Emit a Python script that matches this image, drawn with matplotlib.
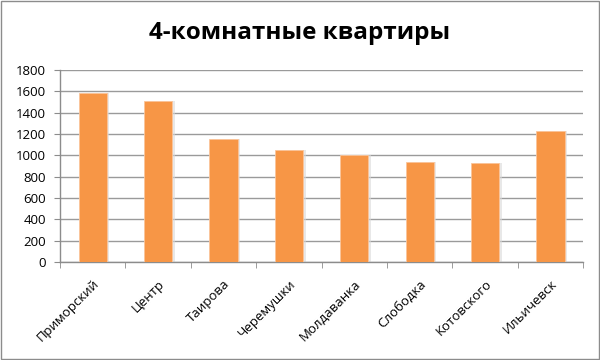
import matplotlib
matplotlib.use("Agg")
import matplotlib.pyplot as plt
import numpy as np

categories = ["Приморский", "Центр", "Таирова", "Черемушки", "Молдаванка", "Слободка", "Котовского", "Ильичевск"]
values = [1580, 1505, 1150, 1045, 1000, 935, 925, 1225]
yticks = [0, 200, 400, 600, 800, 1000, 1200, 1400, 1600, 1800]
title = "4-комнатные квартиры"

plt.rcParams['font.family'] = ['Open Sans', 'DejaVu Sans']

fig = plt.figure(figsize=(6, 3.6), dpi=100)
ax = fig.add_axes([0.1, 0.272, 0.872, 0.534])

x = np.arange(len(categories))
# subtle shadow
ax.bar(x + 0.04, values, width=0.43, color='#d9d9d9', zorder=2, alpha=0.6)
ax.bar(x, values, width=0.43, color='#F79646', edgecolor='#fbc59a', linewidth=0.6, zorder=3)

ax.set_xlim(-0.5, len(categories) - 0.5)
ax.set_ylim(0, 1800)
ax.set_yticks(yticks)
ax.set_yticklabels([str(v) for v in yticks], fontsize=9.5)
ax.yaxis.grid(True, color='#9a9a9a', linewidth=1.0, zorder=0)
ax.set_axisbelow(True)

ax.set_xticks(x)
ax.set_xticklabels(categories, rotation=45, ha='right', rotation_mode='anchor', fontsize=9.5)
ax.tick_params(axis='x', which='major', length=0, pad=11)
ax.set_xticks(np.arange(-0.5, len(categories)), minor=True)
ax.tick_params(axis='x', which='minor', length=4, color='#8c8c8c', direction='out')
ax.tick_params(axis='y', length=4, color='#8c8c8c', direction='out', pad=6)

for s in ['top', 'right']:
    ax.spines[s].set_visible(False)
for s in ['left', 'bottom']:
    ax.spines[s].set_color('#8c8c8c')
    ax.spines[s].set_linewidth(1.0)

fig.text(0.5, 0.908, title, ha='center', va='center', fontsize=17.5, fontweight='bold')

border = plt.Rectangle((0.002, 0.003), 0.996, 0.994, transform=fig.transFigure, fill=False, edgecolor='#8c8c8c', linewidth=1.0)
fig.patches.append(border)

fig.savefig("out.png", dpi=100)
